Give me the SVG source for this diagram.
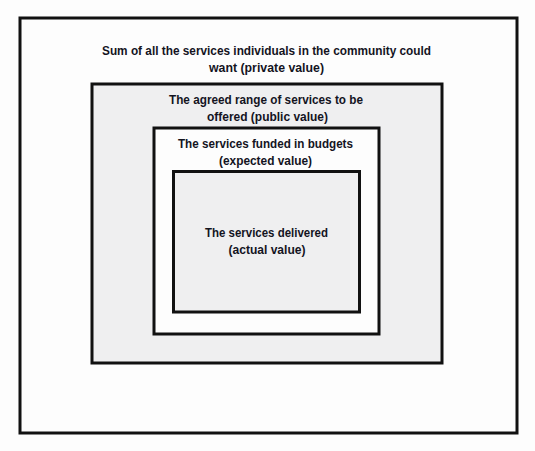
<svg xmlns="http://www.w3.org/2000/svg" width="535" height="451" viewBox="0 0 535 451">
<style>
.box{stroke:#111;stroke-width:3}
.t{font-family:"Liberation Sans",Arial,sans-serif;font-weight:bold;font-size:12px;fill:#14141f;text-anchor:middle}
</style>
<rect width="535" height="451" fill="#fdfdfd"/>
<g id="private">
<rect class="box" x="20" y="18" width="497" height="415" fill="#fdfdfd"/>
<text class="t" x="266.5" y="55" textLength="329" lengthAdjust="spacingAndGlyphs">Sum of all the services individuals in the community could</text>
<text class="t" x="266.5" y="72" textLength="115" lengthAdjust="spacingAndGlyphs">want (private value)</text>
</g>
<g id="public">
<rect class="box" x="92" y="84" width="350" height="279" fill="#efeff0"/>
<text class="t" x="266" y="104" textLength="194" lengthAdjust="spacingAndGlyphs">The agreed range of services to be</text>
<text class="t" x="267.5" y="121" textLength="121" lengthAdjust="spacingAndGlyphs">offered (public value)</text>
</g>
<g id="expected">
<rect class="box" x="154" y="128" width="225" height="206" fill="#fdfdfd"/>
<text class="t" x="265.5" y="148" textLength="175" lengthAdjust="spacingAndGlyphs">The services funded in budgets</text>
<text class="t" x="265.5" y="165" textLength="93" lengthAdjust="spacingAndGlyphs">(expected value)</text>
</g>
<g id="actual">
<rect class="box" x="173.5" y="171.5" width="186" height="140.5" fill="#efeff0"/>
<text class="t" x="266.5" y="237" textLength="123" lengthAdjust="spacingAndGlyphs">The services delivered</text>
<text class="t" x="267" y="254" textLength="77" lengthAdjust="spacingAndGlyphs">(actual value)</text>
</g>
<g id="connectors"/>
</svg>
